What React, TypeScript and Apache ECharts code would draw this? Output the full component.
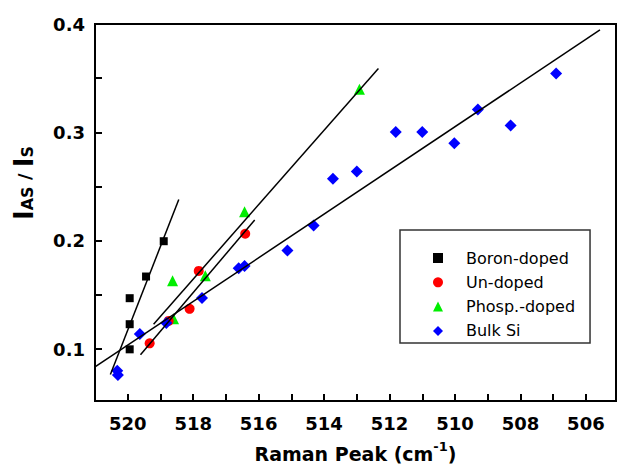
import React, { useEffect, useRef } from 'react';
import * as echarts from 'echarts';

// Axis ticks / labels
const xTicks = [506, 507, 508, 509, 510, 511, 512, 513, 514, 515, 516, 517, 518, 519, 520];
const xLabels = [506, 508, 510, 512, 514, 516, 518, 520];
const yTicks = [0.1, 0.15, 0.2, 0.25, 0.3, 0.35, 0.4];
const yLabels = [0.1, 0.2, 0.3, 0.4];

// Series values
const boronX = [519.94, 519.94, 519.94, 519.44, 518.9];
const boronY = [0.0997, 0.1229, 0.1469, 0.1669, 0.1995];
const undopedX = [519.33, 518.75, 518.11, 517.83, 516.41];
const undopedY = [0.1052, 0.1259, 0.1371, 0.1721, 0.2064];
const phospX = [518.63, 518.6, 517.63, 516.43, 512.92];
const phospY = [0.163, 0.128, 0.1676, 0.2268, 0.3398];
const bulkX = [520.32, 520.3, 519.63, 518.82, 517.73, 516.61, 516.43, 515.12, 514.32, 513.73, 513.0, 511.81, 511.0, 510.02, 509.3, 508.3, 506.91];
const bulkY = [0.08, 0.076, 0.1138, 0.1241, 0.1471, 0.1745, 0.1767, 0.1909, 0.214, 0.2572, 0.2638, 0.3003, 0.3003, 0.29, 0.321, 0.3064, 0.3544];

// Linear fit end points
const boronFitX = [520.53, 518.44];
const boronFitY = [0.0764, 0.238];
const undopedFitX = [519.61, 516.12];
const undopedFitY = [0.0946, 0.2191];
const phospFitX = [519.21, 512.34];
const phospFitY = [0.1229, 0.359];
const bulkFitX = [521.0, 505.57];
const bulkFitY = [0.0834, 0.3945];

const names = ['Boron-doped', 'Un-doped', 'Phosp.-doped', 'Bulk Si'];

const zip = (xs: number[], ys: number[]) => xs.map((x, i) => [x, ys[i]]);
const FONT = 'DejaVu Sans';

export default function App() {
  const ref = useRef<HTMLDivElement>(null);
  useEffect(() => {
    if (!ref.current) return;
    const chart = echarts.init(ref.current, null, { renderer: 'svg' });
    const fitLine = (xs: number[], ys: number[]) => ({
      type: 'line',
      data: zip(xs, ys),
      symbol: 'none',
      lineStyle: { color: '#000', width: 1.5 },
      z: 5,
      silent: true,
    });
    chart.setOption({
      animation: false,
      backgroundColor: '#fff',
      grid: {
        left: 95, right: 2, top: 24, bottom: 63,
        show: true, borderColor: '#000', borderWidth: 2, backgroundColor: 'transparent',
      },
      legend: {
        orient: 'vertical', left: 400, top: 230,
        data: names,
        itemWidth: 10, itemHeight: 10, itemGap: 8.3,
        padding: [20, 15, 4, 33],
        borderColor: '#333', borderWidth: 1.5,
        selectedMode: false,
        textStyle: { fontFamily: FONT, fontSize: 16, color: '#000', lineHeight: 16, padding: [0, 0, 0, 18] },
      },
      xAxis: {
        type: 'value', min: 505.08, max: 521, inverse: true,
        axisLine: { lineStyle: { color: '#000', width: 2 } },
        axisTick: { inside: true, length: 7, customValues: xTicks, lineStyle: { color: '#000', width: 2 } },
        axisLabel: {
          customValues: xLabels, fontFamily: FONT, fontSize: 18, fontWeight: 'bold', color: '#000', margin: 13,
          formatter: (v: number) => String(Math.round(v)),
        },
        splitLine: { show: false },
        name: '{a|Raman Peak (cm}{b|-1}{a|)}',
        nameLocation: 'middle', nameGap: 39,
        nameTextStyle: {
          rich: {
            a: { fontFamily: FONT, fontSize: 19, fontWeight: 'bold', color: '#000' },
            b: { fontFamily: FONT, fontSize: 13, fontWeight: 'bold', color: '#000', padding: [0, 0, 14, 0] },
          },
        },
      },
      yAxis: {
        type: 'value', min: 0.052, max: 0.4,
        axisLine: { lineStyle: { color: '#000', width: 2 } },
        axisTick: { inside: true, length: 7, customValues: yTicks, lineStyle: { color: '#000', width: 2 } },
        axisLabel: {
          customValues: yLabels, fontFamily: FONT, fontSize: 18, fontWeight: 'bold', color: '#000', margin: 10,
          formatter: (v: number) => v.toFixed(1),
        },
        splitLine: { show: false },
      },
      graphic: [
        {
          type: 'text', x: 24, y: 183, rotation: Math.PI / 2,
          style: {
            text: '{m|I}{s|AS}{d| / }{m|I}{s|S}',
            align: 'center', verticalAlign: 'middle',
            fill: '#000',
            rich: {
              m: { fontFamily: FONT, fontSize: 26, fontWeight: 'bold', fill: '#000' },
              s: { fontFamily: FONT, fontSize: 16, fontWeight: 'bold', fill: '#000', padding: [7, 0, 0, 0] },
              d: { fontFamily: FONT, fontSize: 18, fontWeight: 'bold', fill: '#000' },
            },
          },
        },
      ],
      series: [
        { name: names[0], type: 'scatter', data: zip(boronX, boronY), symbol: 'rect', symbolSize: 8, itemStyle: { color: '#000', opacity: 1 } },
        { name: names[2], type: 'scatter', data: zip(phospX, phospY), symbol: 'triangle', symbolSize: 11, itemStyle: { color: '#00ee00', opacity: 1 } },
        { name: names[1], type: 'scatter', data: zip(undopedX, undopedY), symbol: 'circle', symbolSize: 10, itemStyle: { color: '#ff0000', opacity: 1 } },
        { name: names[3], type: 'scatter', data: zip(bulkX, bulkY), symbol: 'diamond', symbolSize: 12, itemStyle: { color: '#0000ff', opacity: 1 } },
        fitLine(boronFitX, boronFitY),
        fitLine(undopedFitX, undopedFitY),
        fitLine(phospFitX, phospFitY),
        fitLine(bulkFitX, bulkFitY),
      ],
    });
    return () => chart.dispose();
  }, []);
  return <div ref={ref} style={{ position: 'fixed', left: 0, top: 0, width: 618, height: 468 }} />;
}
